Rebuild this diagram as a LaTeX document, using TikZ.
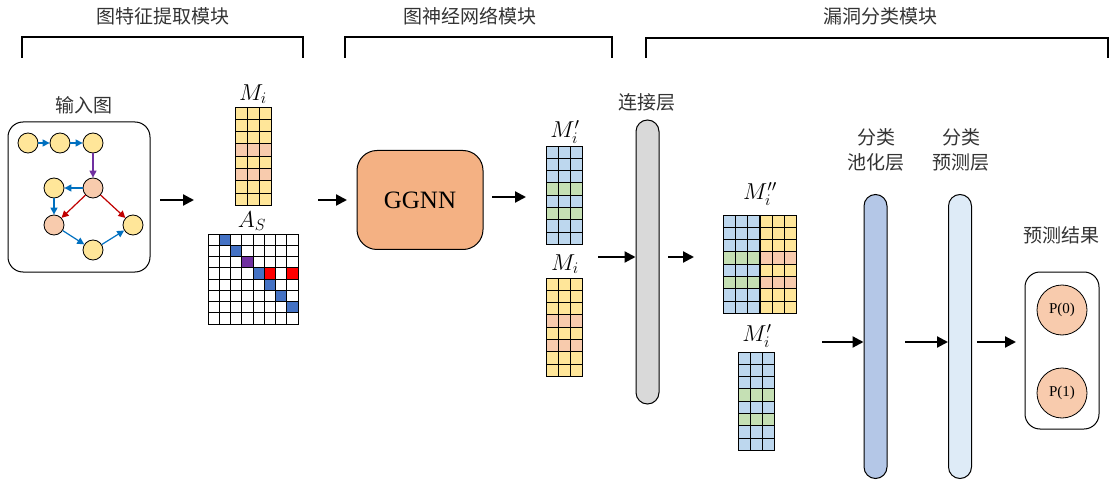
\RequirePackage{fix-cm}
\documentclass[tikz,border=0pt]{standalone}
\usepackage{amsmath}
\usepackage{fontspec}
\setmainfont{Liberation Serif}
\newfontfamily\cjk{Noto Sans CJK SC}
\usetikzlibrary{arrows.meta,positioning}

\definecolor{nodeye}{HTML}{FFE699}
\definecolor{nodeor}{HTML}{F8CBAD}
\definecolor{cellbl}{HTML}{BDD7EE}
\definecolor{cellgr}{HTML}{C5E0B4}
\definecolor{edgebl}{HTML}{0070C0}
\definecolor{edgerd}{HTML}{C00000}
\definecolor{edgepu}{HTML}{7030A0}
\definecolor{adjbl}{HTML}{4472C4}
\definecolor{adjrd}{HTML}{FF0000}
\definecolor{ggnnor}{HTML}{F4B183}
\definecolor{poolbl}{HTML}{B4C7E7}
\definecolor{predbl}{HTML}{DEEBF7}
\definecolor{catgr}{HTML}{D9D9D9}

\tikzset{
  gnode/.style={circle, draw=black, line width=0.8pt, minimum size=20pt, inner sep=0pt},
  gedge/.style={-{Triangle[length=7pt,width=7pt]}, line width=1.2pt},
  flow/.style={-{Triangle[length=11pt,width=11pt]}, line width=2.2pt},
  cjktext/.style={font=\cjk\fontsize{19}{25}\selectfont, text=black!80, align=center},
  mathlbl/.style={font=\fontsize{23}{24}\selectfont, inner sep=1pt},
  pill/.style={draw, line width=1pt, rounded corners=11.5pt, minimum width=23pt,
    minimum height=284pt, inner sep=0pt},
  brace/.style={line width=1.4pt},
}

% one 3-column feature matrix, #1/#2 = top left, #3 = row colours
\newcommand{\colmat}[3]{%
  \foreach \c [count=\r from 0] in {#3}
    \foreach \k in {0,1,2}
      \filldraw[fill=\c, draw=black, line width=0.9pt]
        ({#1+\k*12.3},{#2+\r*12.3}) rectangle ++(12.3,12.3);
}

\begin{document}
\begin{tikzpicture}[x=1pt, y=-1pt]
  \useasboundingbox (0,0) rectangle (1114,481);

  % module titles and brackets
  \node[cjktext] (t1) at (163,16) {图特征提取模块};
  \node[cjktext] (t2) at (470,16) {图神经网络模块};
  \node[cjktext] (t3) at (880,16) {漏洞分类模块};
  \draw[brace] (22,58) -- (22,37) -- (303,37) -- (303,58);
  \draw[brace] (345,58) -- (345,37) -- (612,37) -- (612,58);
  \draw[brace] (646,58) -- (646,38) -- (1108,38) -- (1108,58);

  % input graph
  \node[cjktext] (intitle) at (84,105) {输入图};
  \node[draw, line width=1pt, rounded corners=15pt, minimum width=142pt,
    minimum height=150pt] (inbox) at (79,197) {};
  \node[gnode, fill=nodeye] (v1) at (28,143) {};
  \node[gnode, fill=nodeye] (v2) at (60,143) {};
  \node[gnode, fill=nodeye] (v3) at (93,143) {};
  \node[gnode, fill=nodeor] (v4) at (93,188) {};
  \node[gnode, fill=nodeye] (v5) at (54,188) {};
  \node[gnode, fill=nodeor] (v6) at (54,225) {};
  \node[gnode, fill=nodeye] (v7) at (93,250) {};
  \node[gnode, fill=nodeye] (v8) at (133,225) {};
  \draw[gedge, edgebl] (v1) -- (v2);
  \draw[gedge, edgebl] (v2) -- (v3);
  \draw[gedge, edgepu] (v3) -- (v4);
  \draw[gedge, edgebl] (v4) -- (v5);
  \draw[gedge, edgebl] (v5) -- (v6);
  \draw[gedge, edgerd] (v4) -- (v6);
  \draw[gedge, edgerd] (v4) -- (v8);
  \draw[gedge, edgebl] (v6) -- (v7);
  \draw[gedge, edgebl] (v7) -- (v8);

  % feature matrix and adjacency matrix
  \node[mathlbl] (mi1) at (253,94) {$M_i$};
  \colmat{235}{107}{nodeye,nodeye,nodeye,nodeor,nodeye,nodeor,nodeye,nodeye}
  \node[mathlbl] (as) at (252,221) {$A_S$};
  \foreach \r in {0,...,7}
    \foreach \k in {0,...,7}
      \draw[line width=0.9pt] ({208+\k*11.25},{234+\r*11.25}) rectangle ++(11.25,11.25);
  \foreach \k/\r/\c in {1/0/adjbl, 2/1/adjbl, 3/2/edgepu, 4/3/adjbl, 5/3/adjrd,
      7/3/adjrd, 5/4/adjbl, 6/5/adjbl, 7/6/adjbl}
    \filldraw[fill=\c, draw=black, line width=0.9pt]
      ({208+\k*11.25},{234+\r*11.25}) rectangle ++(11.25,11.25);

  % GGNN
  \node[draw, line width=1pt, fill=ggnnor, rounded corners=20pt, minimum width=126pt,
    minimum height=99pt, font=\fontsize{25}{28}\selectfont] (ggnn) at (420,200) {GGNN};

  % GGNN output and original features
  \node[mathlbl] (mi2) at (565,132) {$M_i'$};
  \colmat{546}{146}{cellbl,cellbl,cellbl,cellgr,cellbl,cellgr,cellbl,cellbl}
  \node[mathlbl] (mi3) at (565,264) {$M_i$};
  \colmat{546}{278}{nodeye,nodeye,nodeye,nodeor,nodeye,nodeor,nodeye,nodeye}

  % concatenation layer
  \node[cjktext] (cattitle) at (647,102) {连接层};
  \node[pill, fill=catgr] (cat) at (647.5,262) {};

  % concatenated matrix and GGNN features
  \node[mathlbl] (mi4) at (760,194) {$M_i''$};
  \colmat{723}{215}{cellbl,cellbl,cellbl,cellgr,cellbl,cellgr,cellbl,cellbl}
  \colmat{760}{215}{nodeye,nodeye,nodeye,nodeor,nodeye,nodeor,nodeye,nodeye}
  \node[mathlbl] (mi5) at (757,336) {$M_i'$};
  \colmat{738}{352}{cellbl,cellbl,cellbl,cellgr,cellbl,cellgr,cellbl,cellbl}

  % classification layers
  \node[cjktext] (pooltitle) at (876,150) {分类\\池化层};
  \node[pill, fill=poolbl] (pool) at (875.5,336.5) {};
  \node[cjktext] (predtitle) at (961,150) {分类\\预测层};
  \node[pill, fill=predbl] (pred) at (960,336.5) {};

  % result
  \node[cjktext] (restitle) at (1061,235) {预测结果};
  \node[draw, line width=1pt, rounded corners=15pt, minimum width=74pt,
    minimum height=157pt] (res) at (1062,350.5) {};
  \node[circle, draw, line width=0.8pt, fill=nodeor, minimum size=50pt, inner sep=0pt,
    font=\fontsize{15}{16}\selectfont] (p0) at (1062,310) {P(0)};
  \node[circle, draw, line width=0.8pt, fill=nodeor, minimum size=50pt, inner sep=0pt,
    font=\fontsize{15}{16}\selectfont] (p1) at (1062,393) {P(1)};

  % flow arrows
  \coordinate (a1) at (160,200);
  \coordinate (b1) at (194,200);
  \coordinate (a2) at (318,200);
  \coordinate (b2) at (347,200);
  \coordinate (a3) at (492,197);
  \coordinate (b3) at (526,197);
  \coordinate (a4) at (598,257);
  \coordinate (a5) at (668,257);
  \coordinate (b5) at (694,257);
  \coordinate (a6) at (822,342);
  \coordinate (a7) at (905,342);
  \coordinate (a8) at (977,342);
  \coordinate (b8) at (1016,342);
  \draw[flow] (a1) -- (b1);
  \draw[flow] (a2) -- (b2);
  \draw[flow] (a3) -- (b3);
  \draw[flow] (a4) -- (a4 -| cat.west);
  \draw[flow] (a5) -- (b5);
  \draw[flow] (a6) -- (a6 -| pool.west);
  \draw[flow] (a7) -- (a7 -| pred.west);
  \draw[flow] (a8) -- (b8);
\end{tikzpicture}
\end{document}
